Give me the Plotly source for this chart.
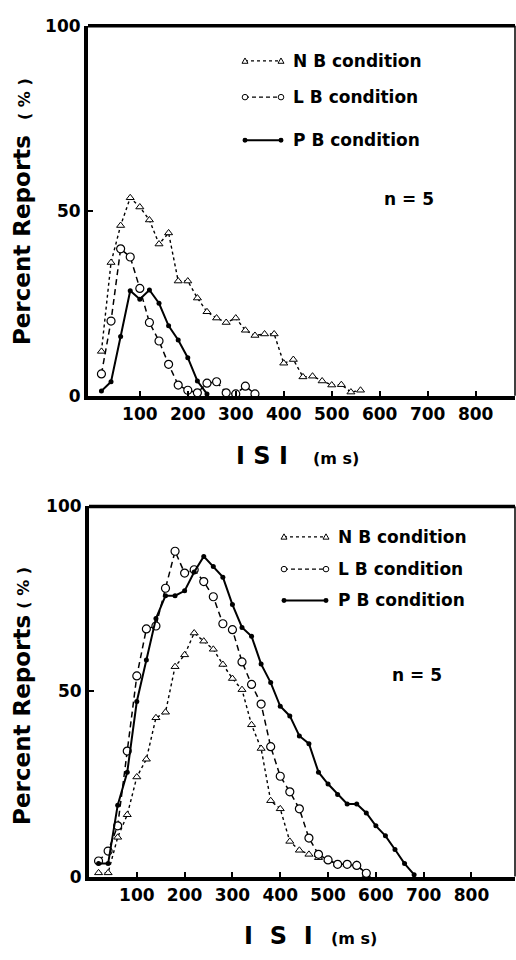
import plotly.graph_objects as go

# ---------------- data ----------------
# Top panel
top_nb_isi = [20, 40, 60, 80, 100, 120, 140, 160, 180, 200, 220, 240, 260, 280,
              300, 320, 340, 360, 380, 400, 420, 440, 460, 480, 500, 520, 540, 560]
top_nb_pct = [12, 36, 46, 53.5, 51, 47.5, 41, 44, 31, 31, 26.4, 22.7, 21, 19.8,
              21, 17.7, 16.3, 16.7, 16.7, 8.8, 9.8, 5.1, 5.3, 4.0, 2.9, 3.0, 1.0, 1.5]

top_lb_isi = [20, 40, 60, 80, 100, 120, 140, 160, 180, 200, 220, 240, 260, 280, 300, 320, 340]
top_lb_pct = [5.9, 20.2, 39.7, 37.5, 29, 19.8, 14.8, 8.5, 2.9, 1.5, 0.8, 3.4, 3.8, 0.8, 0.5, 2.6, 0.5]

top_pb_isi = [20, 40, 60, 80, 100, 120, 140, 160, 180, 200, 220, 240]
top_pb_pct = [1.3, 3.8, 16, 28.4, 26.1, 28.6, 25, 18.9, 15.1, 10.3, 4, 0.5]

# Bottom panel
bot_nb_isi = [20, 40, 60, 80, 100, 120, 140, 160, 180, 200, 220, 240, 260, 280, 300,
              320, 340, 360, 380, 400, 420, 440, 460, 480, 500, 520, 540, 560, 580]
bot_nb_pct = [1, 1, 10.6, 16.7, 26.9, 31.7, 42.9, 44.4, 56.7, 59.9, 65.8, 63.6, 61.4, 57.3, 53.5,
              50.5, 41, 34.6, 20.5, 18.3, 9.5, 7.1, 6.0, 5.1, 4.6, 3.3, 3.3, 3.3, 0.5]

bot_lb_isi = [20, 40, 60, 80, 100, 120, 140, 160, 180, 200, 220, 240, 260, 280, 300,
              320, 340, 360, 380, 400, 420, 440, 460, 480, 500, 520, 540, 560, 580]
bot_lb_pct = [4.2, 6.9, 13.7, 33.9, 54.2, 66.9, 67.7, 77.9, 87.9, 82, 82.9, 79.7, 75.6, 68.3, 66.7,
              58, 51.9, 46.6, 35.1, 27.1, 22.9, 18.3, 10.4, 6.0, 4.5, 3.3, 3.3, 3.0, 0.9]

bot_pb_isi = [20, 40, 60, 80, 100, 120, 140, 160, 180, 200, 220, 240, 260, 280, 300, 320, 340,
              360, 380, 400, 420, 440, 460, 480, 500, 520, 540, 560, 580, 600, 620, 640, 660, 680]
bot_pb_pct = [3.5, 3.5, 19.3, 28.2, 47.3, 58.5, 69.7, 75.9, 75.9, 77.2, 82.3, 86.5, 83.8, 80.9, 73.5, 67.3, 64.9,
              57.4, 52.4, 46, 43.4, 38, 35.9, 28.2, 25, 22.2, 19.6, 19.6, 17.2, 13.7, 11, 7.3, 3.5, 0.5]

x_ticks = [100, 200, 300, 400, 500, 600, 700, 800]
y_ticks = [0, 50, 100]
legend_labels = ["N B condition", "L B condition", "P B condition"]
n_label = "n = 5"

# ---------------- figure ----------------
W, H = 516, 960
FONT = "DejaVu Sans"
BLACK = "black"


def X(px):
    return px / W


def Y(py):
    return 1 - py / H


fig = go.Figure()

styles = {
    "NB": dict(line=dict(color=BLACK, width=1.4, dash="dot"),
               marker=dict(symbol="triangle-up", size=7, color="white", line=dict(color=BLACK, width=1))),
    "LB": dict(line=dict(color=BLACK, width=1.5, dash="6px,4px"),
               marker=dict(symbol="circle", size=8, color="white", line=dict(color=BLACK, width=1.2))),
    "PB": dict(line=dict(color=BLACK, width=2),
               marker=dict(symbol="circle", size=5, color=BLACK, line=dict(color=BLACK, width=0))),
}

for xs, ys, key, xa, ya in [
    (top_nb_isi, top_nb_pct, "NB", "x", "y"),
    (top_lb_isi, top_lb_pct, "LB", "x", "y"),
    (top_pb_isi, top_pb_pct, "PB", "x", "y"),
    (bot_nb_isi, bot_nb_pct, "NB", "x2", "y2"),
    (bot_lb_isi, bot_lb_pct, "LB", "x2", "y2"),
    (bot_pb_isi, bot_pb_pct, "PB", "x2", "y2"),
]:
    fig.add_trace(go.Scatter(x=xs, y=ys, mode="lines+markers", xaxis=xa, yaxis=ya,
                             showlegend=False, cliponaxis=False, **styles[key]))

tickfont = dict(family=FONT, size=17, color=BLACK, weight="bold")
axis_common = dict(showline=True, linewidth=4, linecolor=BLACK, ticks="inside", ticklen=5,
                   tickwidth=2, tickcolor=BLACK, showgrid=False, zeroline=False,
                   tickfont=tickfont, fixedrange=True)

fig.update_layout(
    width=W, height=H, margin=dict(l=0, r=0, t=0, b=0, pad=0),
    paper_bgcolor="white", plot_bgcolor="white", showlegend=False,
    xaxis=dict(domain=[X(88), X(515)], anchor="y", range=[-8, 882], tickvals=x_ticks, **axis_common),
    yaxis=dict(domain=[Y(394), Y(16)], anchor="x", range=[0, 100], tickvals=y_ticks, **axis_common),
    xaxis2=dict(domain=[X(89), X(515)], anchor="y2", range=[0, 891], tickvals=x_ticks, **axis_common),
    yaxis2=dict(domain=[Y(885), Y(507)], anchor="x2", range=[0, 100], tickvals=y_ticks, **axis_common),
)

shapes = []
# top and right frame lines
for xr, yr in [("x domain", "y domain"), ("x2 domain", "y2 domain")]:
    shapes.append(dict(type="line", xref=xr, yref=yr, x0=0, x1=1, y0=1, y1=1,
                       line=dict(color=BLACK, width=3.5)))
    shapes.append(dict(type="line", xref=xr, yref=yr, x0=1, x1=1, y0=0, y1=1,
                       line=dict(color=BLACK, width=1.5)))

annotations = []


def legend_block(x_left, x_right, rows_y, text_x, font_size):
    dashes = ["dot", "4px,3px", "solid"]
    for i, (py, lab) in enumerate(zip(rows_y, legend_labels)):
        shapes.append(dict(type="line", xref="paper", yref="paper", x0=X(x_left), x1=X(x_right),
                           y0=Y(py), y1=Y(py),
                           line=dict(color=BLACK, width=1.3 if i < 2 else 2, dash=dashes[i])))
        for cx in (x_left, x_right):
            if i == 0:
                r = 3
                path = "M {:.5f},{:.5f} L {:.5f},{:.5f} L {:.5f},{:.5f} Z".format(
                    X(cx - r), Y(py + r * 0.8), X(cx + r), Y(py + r * 0.8), X(cx), Y(py - r))
                shapes.append(dict(type="path", xref="paper", yref="paper", path=path,
                                   fillcolor="white", line=dict(color=BLACK, width=1)))
            elif i == 1:
                r = 2.8
                shapes.append(dict(type="circle", xref="paper", yref="paper",
                                   x0=X(cx - r), x1=X(cx + r), y0=Y(py + r), y1=Y(py - r),
                                   fillcolor="white", line=dict(color=BLACK, width=1)))
            else:
                r = 2.5
                shapes.append(dict(type="circle", xref="paper", yref="paper",
                                   x0=X(cx - r), x1=X(cx + r), y0=Y(py + r), y1=Y(py - r),
                                   fillcolor=BLACK, line=dict(color=BLACK, width=0)))
        annotations.append(dict(xref="paper", yref="paper", x=X(text_x), y=Y(py),
                                xanchor="left", yanchor="middle", showarrow=False, text=lab,
                                font=dict(family=FONT, size=font_size, color=BLACK, weight="bold")))


legend_block(245, 281, [52, 89, 133], 291, 17)
legend_block(284, 326, [538, 571, 603], 336, 17)

bold = lambda s: dict(family=FONT, size=s, color=BLACK, weight="bold")

# n = 5 labels
annotations.append(dict(xref="paper", yref="paper", x=X(409), y=Y(193), xanchor="center",
                        yanchor="middle", showarrow=False, text=n_label, font=bold(17)))
annotations.append(dict(xref="paper", yref="paper", x=X(417), y=Y(679), xanchor="center",
                        yanchor="middle", showarrow=False, text=n_label, font=bold(17)))

# x-axis titles
annotations.append(dict(xref="paper", yref="paper", x=X(262), y=Y(455), xanchor="center",
                        yanchor="middle", showarrow=False, text="I S I", font=bold(24)))
annotations.append(dict(xref="paper", yref="paper", x=X(336), y=Y(458), xanchor="center",
                        yanchor="middle", showarrow=False, text="(m s)", font=bold(16)))
annotations.append(dict(xref="paper", yref="paper", x=X(278), y=Y(946), xanchor="center",
                        yanchor="middle", showarrow=False, text="I&nbsp;&nbsp;S&nbsp;&nbsp;I",
                        font=bold(24)))
annotations.append(dict(xref="paper", yref="paper", x=X(354), y=Y(948), xanchor="center",
                        yanchor="middle", showarrow=False, text="(m s)", font=bold(16)))

# y-axis titles
for cy_main, cy_pct in [(235, 91), (725, 590)]:
    annotations.append(dict(xref="paper", yref="paper", x=X(22), y=Y(cy_main), xanchor="center",
                            yanchor="middle", showarrow=False, text="Percent Reports",
                            textangle=-90, font=bold(23)))
    annotations.append(dict(xref="paper", yref="paper", x=X(24), y=Y(cy_pct), xanchor="center",
                            yanchor="middle", showarrow=False, text="( % )",
                            textangle=-90, font=bold(16)))

fig.update_layout(shapes=shapes, annotations=annotations)

fig.write_html("out.html")
